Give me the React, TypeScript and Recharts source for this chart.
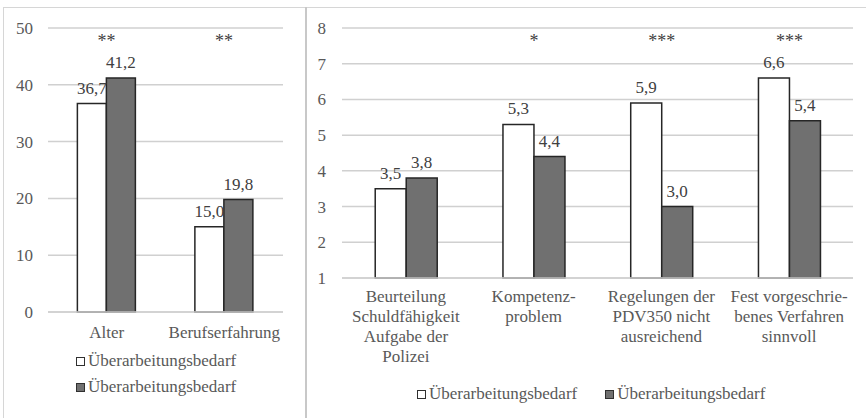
import { BarChart, Bar, XAxis, YAxis, CartesianGrid, LabelList } from 'recharts';

const leftCategories = ['Alter', 'Berufserfahrung'];
const leftSeriesA = [36.7, 15.0];
const leftSeriesB = [41.2, 19.8];
const leftStars = ['**', '**'];
const leftTicks = [0, 10, 20, 30, 40, 50];

const rightCategories = [
    'Beurteilung\nSchuldfähigkeit\nAufgabe der\nPolizei',
    'Kompetenz-\nproblem',
    'Regelungen der\nPDV350 nicht\nausreichend',
    'Fest vorgeschrie-\nbenes Verfahren\nsinnvoll',
];
const rightSeriesA = [3.5, 5.3, 5.9, 6.6];
const rightSeriesB = [3.8, 4.4, 3.0, 5.4];
const rightStars = ['', '*', '***', '***'];
const rightTicks = [1, 2, 3, 4, 5, 6, 7, 8];

const seriesNames = ['Überarbeitungsbedarf', 'Überarbeitungsbedarf'];

const FONT = 'Liberation Serif, Tinos, Times New Roman, DejaVu Serif, serif';
const AXIS = '#595959';
const LABEL = '#404040';
const GRID = '#d0d0d0';
const FILL_A = '#ffffff';
const FILL_B = '#707070';
const BAR_STROKE = '#262626';

const leftData = leftCategories.map((name, i) => ({
    name,
    a: leftSeriesA[i],
    b: leftSeriesB[i],
    stars: leftStars[i],
}));

const rightData = rightCategories.map((name, i) => ({
    name,
    a: rightSeriesA[i],
    b: rightSeriesB[i],
    stars: rightStars[i],
}));

const fmt = (v: any) => Number(v).toFixed(1).replace('.', ',');

const CategoryTick = (props: any) => {
    const { x, y, payload } = props;
    const lines = String(payload.value).split('\n');
    return (
        <text x={x} y={y} textAnchor="middle" fill={AXIS} fontSize={17} style={{ fontFamily: FONT }}>
            {lines.map((line, i) => (
                <tspan key={i} x={x} dy={i === 0 ? 12 : 20}>{line}</tspan>
            ))}
        </text>
    );
};

// significance stars sit at the category centre (left edge of the 2nd bar), near the top
const StarLabel = (props: any) => {
    const vb = props.viewBox || props;
    if (!props.value) return null;
    return (
        <text x={vb.x} y={47} textAnchor="middle" fill={LABEL} fontSize={18} style={{ fontFamily: FONT }}>
            {props.value}
        </text>
    );
};

const LegendSwatch = ({ fill }: { fill: string }) => (
    <span style={{
        display: 'inline-block',
        width: 7,
        height: 7,
        background: fill,
        border: '1px solid #303030',
        marginRight: 3,
    }} />
);

const legendText = { fontSize: 17, color: AXIS, fontFamily: FONT, lineHeight: '20px', whiteSpace: 'nowrap' as const };
const tickStyle = { fill: AXIS, fontSize: 17, style: { fontFamily: FONT } };

export default function App() {
    const fills = [FILL_A, FILL_B];
    return (
        <div style={{ position: 'absolute', left: 0, top: 0, width: 866, height: 418, background: '#fff', fontFamily: FONT, overflow: 'hidden' }}>
            {/* frame */}
            <div style={{ position: 'absolute', left: 3, top: 7, width: 863, height: 411, borderTop: '1px solid #d6d6d6', borderLeft: '1px solid #d6d6d6' }} />
            <div style={{ position: 'absolute', left: 305, top: 7, width: 2, height: 411, background: '#c8c8c8' }} />

            {/* left panel */}
            <div style={{ position: 'absolute', left: 0, top: 0 }}>
                <BarChart width={306} height={418} data={leftData} margin={{ top: 28, right: 23, bottom: 76, left: 0 }} barGap={0} barCategoryGap="25%" style={{ fontFamily: FONT }}>
                    <CartesianGrid vertical={false} stroke={GRID} strokeWidth={1.5} />
                    <XAxis dataKey="name" interval={0} height={30} axisLine={{ stroke: GRID, strokeWidth: 1.5 }} tickLine={false} tickSize={0} tickMargin={14} tick={<CategoryTick />} />
                    <YAxis domain={[0, 50]} ticks={leftTicks} interval={0} width={48} axisLine={false} tickLine={false} tickSize={0} tickMargin={15} tick={tickStyle} />
                    <Bar dataKey="a" name={seriesNames[0]} fill={FILL_A} stroke={BAR_STROKE} strokeWidth={1.5} isAnimationActive={false}>
                        <LabelList dataKey="a" position="top" offset={10} formatter={fmt} fill={LABEL} fontSize={17} style={{ fontFamily: FONT }} />
                    </Bar>
                    <Bar dataKey="b" name={seriesNames[1]} fill={FILL_B} stroke={BAR_STROKE} strokeWidth={1.5} isAnimationActive={false}>
                        <LabelList dataKey="b" position="top" offset={10} formatter={fmt} fill={LABEL} fontSize={17} style={{ fontFamily: FONT }} />
                        <LabelList dataKey="stars" content={StarLabel} />
                    </Bar>
                </BarChart>
            </div>
            <div style={{ position: 'absolute', left: 76, top: 348 }}>
                {seriesNames.map((n, i) => (
                    <div key={i} style={{ ...legendText, height: 26, display: 'flex', alignItems: 'center' }}>
                        <LegendSwatch fill={fills[i]} />{n}
                    </div>
                ))}
            </div>

            {/* right panel */}
            <div style={{ position: 'absolute', left: 306, top: 0 }}>
                <BarChart width={560} height={418} data={rightData} margin={{ top: 28, right: 13, bottom: 39, left: 0 }} barGap={0} barCategoryGap="26%" style={{ fontFamily: FONT }}>
                    <CartesianGrid vertical={false} stroke={GRID} strokeWidth={1.5} />
                    <XAxis dataKey="name" interval={0} height={101} axisLine={{ stroke: GRID, strokeWidth: 1.5 }} tickLine={false} tickSize={0} tickMargin={12} tick={<CategoryTick />} />
                    <YAxis domain={[1, 8]} ticks={rightTicks} interval={0} width={36} axisLine={false} tickLine={false} tickSize={0} tickMargin={16} tick={tickStyle} />
                    <Bar dataKey="a" name={seriesNames[0]} fill={FILL_A} stroke={BAR_STROKE} strokeWidth={1.5} isAnimationActive={false}>
                        <LabelList dataKey="a" position="top" offset={10} formatter={fmt} fill={LABEL} fontSize={17} style={{ fontFamily: FONT }} />
                    </Bar>
                    <Bar dataKey="b" name={seriesNames[1]} fill={FILL_B} stroke={BAR_STROKE} strokeWidth={1.5} isAnimationActive={false}>
                        <LabelList dataKey="b" position="top" offset={10} formatter={fmt} fill={LABEL} fontSize={17} style={{ fontFamily: FONT }} />
                        <LabelList dataKey="stars" content={StarLabel} />
                    </Bar>
                </BarChart>
            </div>
            <div style={{ position: 'absolute', left: 417, top: 384, display: 'flex', gap: 28 }}>
                {seriesNames.map((n, i) => (
                    <div key={i} style={{ ...legendText, display: 'flex', alignItems: 'center' }}>
                        <LegendSwatch fill={fills[i]} />{n}
                    </div>
                ))}
            </div>
        </div>
    );
}
